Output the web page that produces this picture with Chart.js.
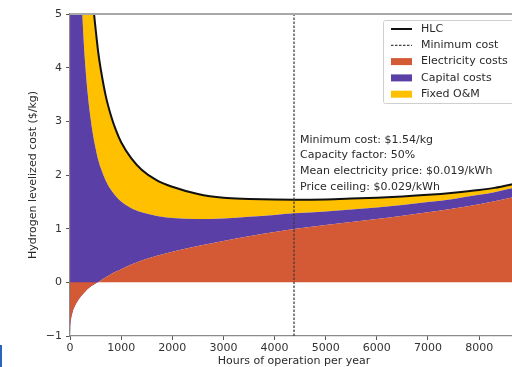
<!DOCTYPE html>
<html>
<head>
<meta charset="utf-8">
<script src="https://cdn.jsdelivr.net/npm/chart.js@4.4.1/dist/chart.umd.min.js"></script>
<style>
html,body{margin:0;padding:0;overflow:hidden;background:#fff;width:512px;height:367px;}
#wrap{position:absolute;left:0;top:0;width:518px;height:367px;}
#blue{position:absolute;left:0;top:345px;width:2px;height:22px;background:#2a62c0;}
</style>
</head>
<body>
<div id="wrap"><canvas id="c" width="518" height="367"></canvas></div>
<div id="blue"></div>
<script>
// ---- data ----
const hours = [1, 5, 15, 33, 60, 100, 150, 200, 250, 300, 350, 400, 450, 500, 550, 600, 700, 800, 900, 1000, 1200, 1400, 1700, 2000, 2500, 3000, 3500, 4000, 4380, 5000, 5500, 6000, 6500, 7000, 7500, 8000, 8300, 8760];
const electricityCost = [-1.0, -0.85, -0.72, -0.62, -0.52, -0.43, -0.35, -0.28, -0.22, -0.17, -0.12, -0.08, -0.05, -0.02, 0.0, 0.035, 0.095, 0.15, 0.20, 0.245, 0.33, 0.405, 0.495, 0.57, 0.675, 0.77, 0.86, 0.94, 0.995, 1.07, 1.125, 1.18, 1.24, 1.305, 1.375, 1.455, 1.51, 1.61];
// top of the capital-cost band (electricity + capital)
const capitalTop = [1259, 251, 83, 37.6, 20.5, 12.2, 8.05, 6.02, 4.82, 4.03, 3.48, 3.07, 2.75, 2.50, 2.29, 2.135, 1.895, 1.725, 1.60, 1.505, 1.38, 1.305, 1.236, 1.20, 1.179, 1.19, 1.22, 1.255, 1.285, 1.32, 1.355, 1.395, 1.44, 1.495, 1.555, 1.63, 1.68, 1.775];
// HLC = electricity + capital + fixed O&M
const hlc = [2400, 470, 157, 71, 39, 23.2, 15.4, 11.5, 9.2, 7.7, 6.6, 5.8, 5.2, 4.73, 4.3, 3.98, 3.47, 3.11, 2.83, 2.61, 2.31, 2.10, 1.90, 1.78, 1.645, 1.575, 1.555, 1.543, 1.54, 1.545, 1.56, 1.578, 1.60, 1.63, 1.67, 1.72, 1.76, 1.85];
const minCostHour = 4380;
const xTicks = [0, 1000, 2000, 3000, 4000, 5000, 6000, 7000, 8000];
const yTicks = [-1, 0, 1, 2, 3, 4, 5];
const legendLabels = ["HLC", "Minimum cost", "Electricity costs", "Capital costs", "Fixed O&M"];
const infoLines = ["Minimum cost: $1.54/kg", "Capacity factor: 50%", "Mean electricity price: $0.019/kWh", "Price ceiling: $0.029/kWh"];
const xTitle = "Hours of operation per year";
const yTitle = "Hydrogen levelized cost ($/kg)";

const RED = "#d35a35", PURPLE = "#5a3fa6", YELLOW = "#ffc000";
const FONT = "DejaVu Sans";
const FS = 11;

const pts = arr => hours.map((h, i) => ({x: h, y: arr[i]}));

const overlay = {
  id: "overlay",
  afterDraw(chart) {
    const ctx = chart.ctx, ca = chart.chartArea;
    ctx.save();
    // top spine
    ctx.strokeStyle = "#a8a8a8"; ctx.lineWidth = 2;
    ctx.beginPath(); ctx.moveTo(ca.left, ca.top); ctx.lineTo(chart.width, ca.top); ctx.stroke();
    // info text
    ctx.fillStyle = "#2a2a2a"; ctx.font = FS + "px '" + FONT + "'"; ctx.textBaseline = "middle"; ctx.textAlign = "left";
    infoLines.forEach((t, i) => ctx.fillText(t, 300, 140 + i * 15.6));
    // legend
    const bx = 383, by = 20, bw = 160, bh = 83;
    ctx.fillStyle = "rgba(255,255,255,0.9)"; ctx.strokeStyle = "#cfcfcf"; ctx.lineWidth = 1;
    ctx.beginPath(); ctx.roundRect(bx + 0.5, by + 0.5, bw, bh, 2); ctx.fill(); ctx.stroke();
    const rowY = i => 29 + i * 16.3;
    ctx.strokeStyle = "#111"; ctx.lineWidth = 2; ctx.setLineDash([]);
    ctx.beginPath(); ctx.moveTo(391, rowY(0)); ctx.lineTo(412, rowY(0)); ctx.stroke();
    ctx.strokeStyle = "#444"; ctx.lineWidth = 1.2; ctx.setLineDash([2.5, 1.5]);
    ctx.beginPath(); ctx.moveTo(391, rowY(1)); ctx.lineTo(412, rowY(1)); ctx.stroke();
    ctx.setLineDash([]);
    [RED, PURPLE, YELLOW].forEach((c, k) => { ctx.fillStyle = c; ctx.fillRect(391, rowY(k + 2) - 3.5, 21, 7); });
    ctx.fillStyle = "#2a2a2a";
    legendLabels.forEach((t, i) => ctx.fillText(t, 421, rowY(i)));
    // axis titles
    ctx.textAlign = "center";
    ctx.fillText(xTitle, (ca.left + ca.right) / 2, 361);
    ctx.translate(33, (ca.top + ca.bottom) / 2); ctx.rotate(-Math.PI / 2);
    ctx.fillText(yTitle, 0, 0);
    ctx.restore();
  }
};

new Chart(document.getElementById("c"), {
  type: "line",
  data: {
    datasets: [
      {label: legendLabels[2], data: pts(electricityCost), fill: "origin", backgroundColor: RED, borderWidth: 0, pointRadius: 0, cubicInterpolationMode: "monotone", order: 1},
      {label: legendLabels[3], data: pts(capitalTop), fill: "-1", backgroundColor: PURPLE, borderWidth: 0, pointRadius: 0, cubicInterpolationMode: "monotone", order: 2},
      {label: legendLabels[0], data: pts(hlc), fill: "-1", backgroundColor: YELLOW, borderColor: "#111", borderWidth: 2, pointRadius: 0, cubicInterpolationMode: "monotone", order: 3},
      {label: legendLabels[1], data: [{x: minCostHour, y: yTicks[0]}, {x: minCostHour, y: yTicks[yTicks.length - 1]}], fill: false, borderColor: "rgba(60,60,60,0.9)", borderWidth: 1.4, borderDash: [2.5, 1.5], pointRadius: 0, order: 0}
    ]
  },
  options: {
    responsive: false, animation: false,
    layout: {padding: {top: 14, left: 0, right: 0, bottom: 0}},
    plugins: {legend: {display: false}, tooltip: {enabled: false}},
    scales: {
      x: {
        type: "linear", min: 0, max: 8760,
        afterBuildTicks: s => { s.ticks = xTicks.map(v => ({value: v})); },
        afterFit: s => { s.height = 31; },
        grid: {drawOnChartArea: false, drawTicks: true, tickLength: 4, tickColor: "#555"},
        border: {display: true, color: "#8a8a8a", width: 1.2},
        ticks: {color: "#333", font: {family: FONT, size: FS}, padding: 2, maxRotation: 0, callback: v => String(v)}
      },
      y: {
        type: "linear", min: -1, max: 5,
        afterBuildTicks: s => { s.ticks = yTicks.map(v => ({value: v})); },
        afterFit: s => { s.width = 70; },
        grid: {drawOnChartArea: false, drawTicks: true, tickLength: 4, tickColor: "#555"},
        border: {display: true, color: "#8a8a8a", width: 1.2},
        ticks: {color: "#333", font: {family: FONT, size: FS}, padding: 4, callback: v => String(v).replace("-", "\u2212")}
      }
    }
  },
  plugins: [overlay]
});
</script>
</body>
</html>
